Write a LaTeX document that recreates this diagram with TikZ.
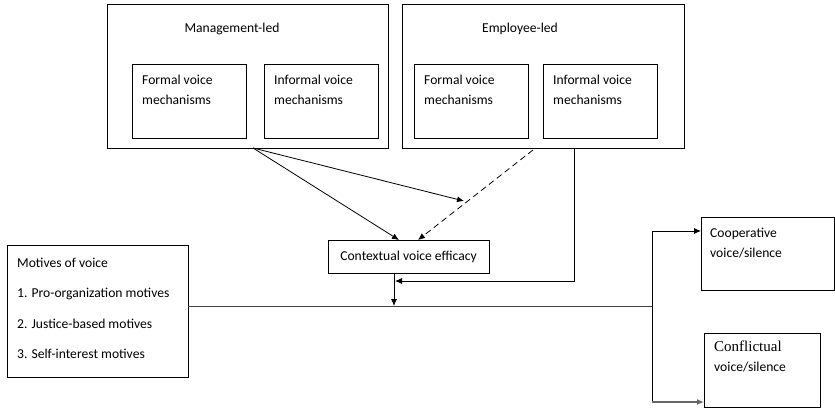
\documentclass[tikz,border=0pt]{standalone}
\usepackage{fontspec}
\setmainfont{Carlito}
\newfontfamily\timesf{Liberation Serif}
\usetikzlibrary{arrows.meta,calc}
\begin{document}
\begin{tikzpicture}[x=1pt,y=-1pt,
  box/.style={draw, inner sep=0pt, outer sep=0pt, line width=0.8pt},
  txt/.style={anchor=north west, inner sep=0pt, align=left, font=\fontsize{13.6}{20}\selectfont},
  arr/.style={line width=0.8pt, -{Latex[length=7pt,width=6pt]}},
  ln/.style={line width=0.8pt}]
\useasboundingbox (0,0) rectangle (835,408);
% boxes
\node[box, minimum width=281pt, minimum height=144pt] (mgmt) at (247.5,76) {};
\node[box, minimum width=114pt, minimum height=74pt] (mf) at (189,101) {};
\node[box, minimum width=114pt, minimum height=74pt] (mi) at (321,101) {};
\node[box, minimum width=282pt, minimum height=144pt] (emp) at (543,76) {};
\node[box, minimum width=114pt, minimum height=74pt] (ef) at (471,101) {};
\node[box, minimum width=114pt, minimum height=74pt] (ei) at (600,101) {};
\node[box, minimum width=161pt, minimum height=33pt, font=\fontsize{13.6}{20}\selectfont] (cve) at (408.5,256.5) {Contextual voice efficacy};
\node[box, minimum width=181pt, minimum height=132pt] (mot) at (97.5,311) {};
\node[box, minimum width=133pt, minimum height=73pt] (coop) at (767.5,253.5) {};
\node[box, minimum width=116pt, minimum height=74pt] (confl) at (762,370) {};
% texts
\node[font=\fontsize{13.6}{20}\selectfont, inner sep=0pt] (tmgmt) at (232,29) {Management-led};
\node[font=\fontsize{13.6}{20}\selectfont, inner sep=0pt] (temp) at (520,29) {Employee-led};
\node[txt] (tmf) at ($(mf.north west)+(10,11)$) {Formal voice\\mechanisms};
\node[txt] (tmi) at ($(mi.north west)+(10,11)$) {Informal voice\\mechanisms};
\node[txt] (tef) at ($(ef.north west)+(10,11)$) {Formal voice\\mechanisms};
\node[txt] (tei) at ($(ei.north west)+(10,11)$) {Informal voice\\mechanisms};
\node[txt, font=\fontsize{13.6}{30.5}\selectfont] (tmot) at (17,257.5) {Motives of voice\\1. Pro-organization motives\\2. Justice-based motives\\3. Self-interest motives};
\node[txt] (tcoop) at (710,227.5) {Cooperative\\voice/silence};
\node[txt] (tconfl) at (714,341) {{\timesf\fontsize{15}{20}\selectfont Conflictual}\\voice/silence};
% coordinates
\coordinate (mgout) at ($(mgmt.south west)+(146,0)$);
\coordinate (mid) at (464,201);
\coordinate (empdash) at ($(emp.south west)+(131,2)$);
\coordinate (empout) at ($(emp.south west)+(172,0)$);
\coordinate (j) at ($(cve.south)+(-13.5,8)$);
\coordinate (cvedown) at ($(cve.south)+(-14.5,0)$);
\coordinate (hl) at (394,306);
\coordinate (split) at (652,306);
\coordinate (coopin) at ($(coop.north west)+(0,14)$);
\coordinate (conflin) at ($(confl.south west)+(0,-5)$);
\coordinate (bot) at (split |- conflin);
% connectors
\draw[arr] (mgout) -- ($(cve.north)+(-9.5,0)$);
\draw[arr] (mgout) -- (mid);
\draw[arr, dash pattern=on 6pt off 4pt] (empdash) -- ($(cve.north)+(9.5,0)$);
\draw[arr] (empout) |- (j);
\draw[arr] (cvedown) -- (hl);
\draw[ln, draw=black!75] ($(mot.east)+(0,-5)$) -- (split);
\draw[arr] (bot) |- (coopin);
\draw[arr, draw=black!60, line width=1.3pt] (bot) -- (conflin);
\end{tikzpicture}
\end{document}
